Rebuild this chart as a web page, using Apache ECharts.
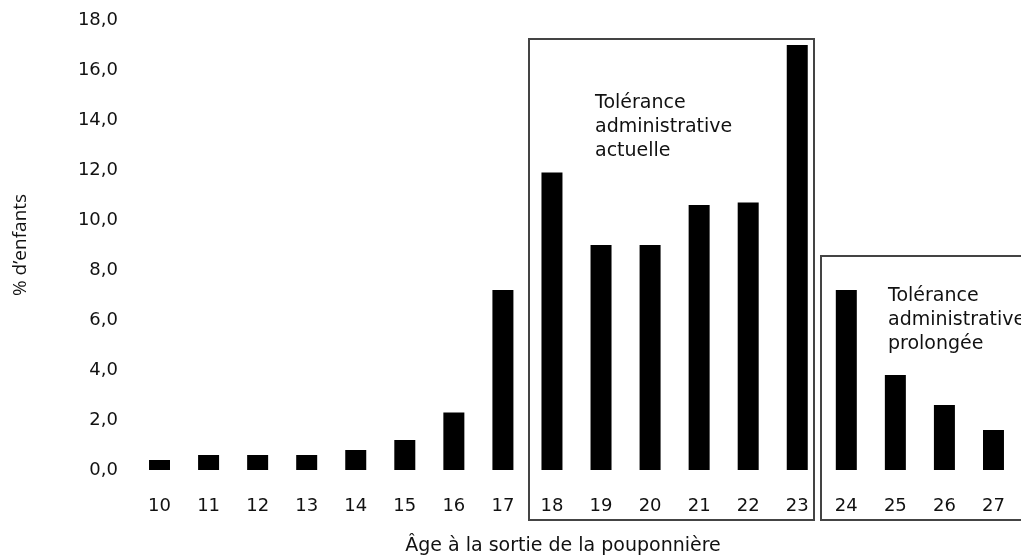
<!DOCTYPE html>
<html>
<head>
<meta charset="utf-8">
<script src="https://cdn.jsdelivr.net/npm/echarts@6/dist/echarts.min.js"></script>
<style>
html,body{margin:0;padding:0;background:#fff;}
#chart{width:1021px;height:558px;}
</style>
</head>
<body>
<div id="chart"></div>
<script>
const categories = ['10','11','12','13','14','15','16','17','18','19','20','21','22','23','24','25','26','27'];
const values = [0.4, 0.6, 0.6, 0.6, 0.8, 1.2, 2.3, 7.2, 11.9, 9.0, 9.0, 10.6, 10.7, 17.0, 7.2, 3.8, 2.6, 1.6];
const yTicks = [0, 2, 4, 6, 8, 10, 12, 14, 16, 18];
const xTitle = 'Âge à la sortie de la pouponnière';
const yTitle = '% d’enfants';
const box1Text = 'Tolérance\nadministrative\nactuelle';
const box2Text = 'Tolérance\nadministrative\nprolongée';

const FONT = 'DejaVu Sans';
const chart = echarts.init(document.getElementById('chart'));
chart.setOption({
  animation: false,
  backgroundColor: '#fff',
  grid: { left: 135, right: 3, top: 20, bottom: 88, containLabel: false, outerBoundsMode: 'none' },
  xAxis: {
    type: 'category',
    data: categories,
    axisLine: { show: false },
    axisTick: { show: false },
    axisLabel: { margin: 27, fontFamily: FONT, fontSize: 18, color: '#111' }
  },
  yAxis: {
    type: 'value',
    min: yTicks[0],
    max: yTicks[yTicks.length - 1],
    interval: 2,
    splitLine: { show: false },
    axisLine: { show: false },
    axisTick: { show: false },
    axisLabel: {
      margin: 17, fontFamily: FONT, fontSize: 18, color: '#111',
      formatter: v => v.toFixed(1).replace('.', ',')
    },
    name: yTitle,
    nameLocation: 'middle',
    nameRotate: 90,
    nameGap: 105,
    nameTextStyle: { fontFamily: 'Open Sans', fontSize: 19, color: '#111' }
  },
  series: [{
    type: 'bar',
    data: values,
    barWidth: 21,
    itemStyle: { color: '#000' }
  }],
  graphic: [
    { type: 'rect', shape: { x: 529, y: 39, width: 285, height: 481 },
      style: { fill: 'none', stroke: '#444', lineWidth: 2 }, z: 10 },
    { type: 'rect', shape: { x: 821, y: 256, width: 220, height: 264 },
      style: { fill: 'none', stroke: '#444', lineWidth: 2 }, z: 10 },
    { type: 'text', left: 595, top: 91,
      style: { text: box1Text, font: '19px "DejaVu Sans"', fill: '#111', lineHeight: 24 }, z: 11 },
    { type: 'text', left: 888, top: 284,
      style: { text: box2Text, font: '19px "DejaVu Sans"', fill: '#111', lineHeight: 24 }, z: 11 },
    { type: 'text', x: 563, y: 546,
      style: { text: xTitle, font: '19px "DejaVu Sans"', fill: '#111', textAlign: 'center', textVerticalAlign: 'middle' }, z: 11 }
  ]
});
</script>
</body>
</html>
